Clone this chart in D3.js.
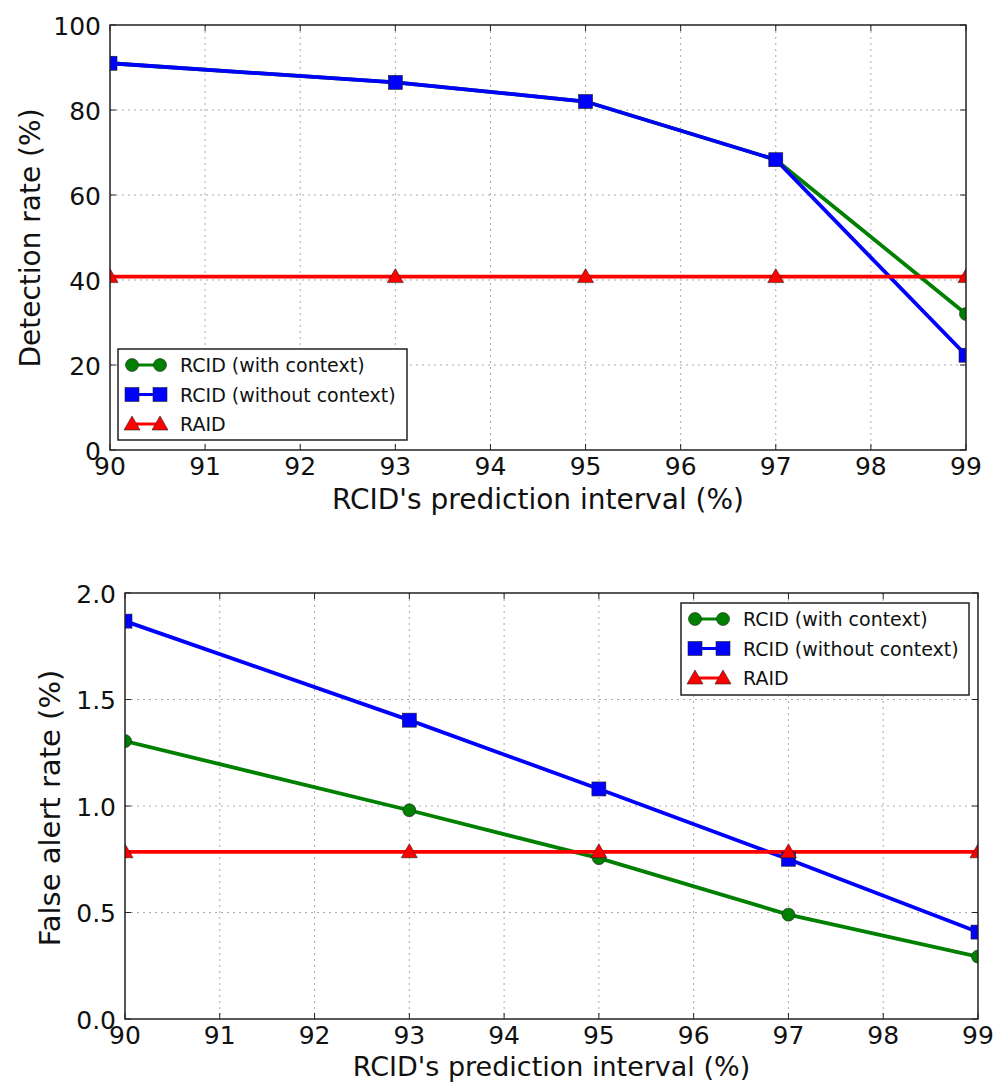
<!DOCTYPE html>
<html>
<head>
<meta charset="utf-8">
<script src="https://cdn.jsdelivr.net/npm/d3@7"></script>
<style>
  body { margin: 0; background: #fff; }
  svg text { font-family: "DejaVu Sans", sans-serif; fill: #111; }
</style>
</head>
<body>
<div id="chart"></div>
<script>
// Data
const intervals = [90, 93, 95, 97, 99];
const xTicks = [90, 91, 92, 93, 94, 95, 96, 97, 98, 99];

const detectWithCtx = [91, 86.5, 82, 68.3, 32];
const detectNoCtx = [91, 86.5, 82, 68.3, 22.3];
const detectRaid = [40.8, 40.8, 40.8, 40.8, 40.8];
const detectTicks = [0, 20, 40, 60, 80, 100];

const falseWithCtx = [1.305, 0.98, 0.755, 0.49, 0.293];
const falseNoCtx = [1.868, 1.403, 1.08, 0.75, 0.408];
const falseRaid = [0.785, 0.785, 0.785, 0.785, 0.785];
const falseTicks = [0, 0.5, 1.0, 1.5, 2.0];

const seriesNames = ["RCID (with context)", "RCID (without context)", "RAID"];
const seriesColors = ["#008000", "#0000ff", "#ff0000"];
const seriesMarkers = ["circle", "square", "triangle"];

const W = 1003, H = 1083;
const svg = d3.select("#chart").append("svg")
    .attr("width", W).attr("height", H);

function drawMarker(g, type, cx, cy, color) {
    if (type === "circle") {
        g.append("circle").attr("cx", cx).attr("cy", cy).attr("r", 6.5)
            .attr("fill", color).attr("stroke", "#222").attr("stroke-width", 0.6);
    } else if (type === "square") {
        g.append("rect").attr("x", cx - 7).attr("y", cy - 7).attr("width", 14).attr("height", 14)
            .attr("fill", color).attr("stroke", "#222").attr("stroke-width", 0.6);
    } else {
        g.append("path").attr("d", `M${cx},${cy - 8} L${cx + 8},${cy + 6} L${cx - 8},${cy + 6} Z`)
            .attr("fill", color).attr("stroke", "#222").attr("stroke-width", 0.6);
    }
}

function drawPanel(opts) {
    const { left, top, right, bottom, yTicks, yFmt, series, yLabel, legend, id } = opts;
    const x = d3.scaleLinear().domain([90, 99]).range([left, right]);
    const y = d3.scaleLinear().domain([yTicks[0], yTicks[yTicks.length - 1]]).range([bottom, top]);
    const g = svg.append("g");

    g.append("clipPath").attr("id", "clip" + id).append("rect")
        .attr("x", left).attr("y", top).attr("width", right - left).attr("height", bottom - top);

    // grid
    g.selectAll(".vg").data(xTicks.slice(1, -1)).enter().append("line")
        .attr("x1", d => x(d)).attr("x2", d => x(d)).attr("y1", top).attr("y2", bottom)
        .attr("stroke", "#aaa").attr("stroke-width", 1).attr("stroke-dasharray", "2,4");
    g.selectAll(".hg").data(yTicks.slice(1, -1)).enter().append("line")
        .attr("x1", left).attr("x2", right).attr("y1", d => y(d)).attr("y2", d => y(d))
        .attr("stroke", "#aaa").attr("stroke-width", 1).attr("stroke-dasharray", "2,4");

    // inside ticks on all sides
    xTicks.forEach(t => {
        g.append("line").attr("x1", x(t)).attr("x2", x(t)).attr("y1", bottom).attr("y2", bottom - 6).attr("stroke", "#222");
        g.append("line").attr("x1", x(t)).attr("x2", x(t)).attr("y1", top).attr("y2", top + 6).attr("stroke", "#222");
    });
    yTicks.forEach(t => {
        g.append("line").attr("x1", left).attr("x2", left + 6).attr("y1", y(t)).attr("y2", y(t)).attr("stroke", "#222");
        g.append("line").attr("x1", right).attr("x2", right - 6).attr("y1", y(t)).attr("y2", y(t)).attr("stroke", "#222");
    });

    // series
    const plot = g.append("g").attr("clip-path", `url(#clip${id})`);
    const line = d3.line().x((d, i) => x(intervals[i])).y(d => y(d));
    series.forEach((vals, si) => {
        plot.append("path").datum(vals).attr("d", line)
            .attr("fill", "none").attr("stroke", seriesColors[si]).attr("stroke-width", 3.8);
    });
    series.forEach((vals, si) => {
        vals.forEach((v, i) => drawMarker(plot, seriesMarkers[si], x(intervals[i]), y(v), seriesColors[si]));
    });

    // frame
    g.append("rect").attr("x", left).attr("y", top).attr("width", right - left).attr("height", bottom - top)
        .attr("fill", "none").attr("stroke", "#222").attr("stroke-width", 1.5);

    // tick labels
    g.selectAll(".xl").data(xTicks).enter().append("text")
        .attr("x", d => x(d)).attr("y", bottom + 25).attr("text-anchor", "middle")
        .attr("font-size", 25).text(d => d);
    g.selectAll(".yl").data(yTicks).enter().append("text")
        .attr("x", left - 9).attr("y", d => y(d) + 9.5).attr("text-anchor", "end")
        .attr("font-size", 25).text(yFmt);

    // axis labels
    g.append("text").attr("x", (left + right) / 2).attr("y", bottom + opts.xLabelDy)
        .attr("text-anchor", "middle").attr("font-size", opts.xLabelSize).text("RCID's prediction interval (%)");
    g.append("text").attr("transform", `translate(${opts.yLabelX},${opts.yLabelY}) rotate(-90)`)
        .attr("text-anchor", "middle").attr("font-size", opts.yLabelSize).text(yLabel);

    // legend
    const lg = g.append("g");
    lg.append("rect").attr("x", legend.x).attr("y", legend.y).attr("width", legend.w).attr("height", legend.h)
        .attr("fill", "#fff").attr("stroke", "#222").attr("stroke-width", 1.5);
    seriesNames.forEach((name, i) => {
        const cy = legend.y + 16 + i * 29.5;
        const x0 = legend.x + 14, x1 = legend.x + 42;
        lg.append("line").attr("x1", x0).attr("x2", x1).attr("y1", cy).attr("y2", cy)
            .attr("stroke", seriesColors[i]).attr("stroke-width", 3);
        drawMarker(lg, seriesMarkers[i], x0, cy, seriesColors[i]);
        drawMarker(lg, seriesMarkers[i], x1, cy, seriesColors[i]);
        lg.append("text").attr("x", legend.x + 62).attr("y", cy + 7)
            .attr("font-size", 19).text(name);
    });
}

drawPanel({
    id: "a", left: 110, top: 25, right: 966, bottom: 450, xLabelDy: 59, xLabelSize: 28,
    yTicks: detectTicks, yFmt: d => d,
    series: [detectWithCtx, detectNoCtx, detectRaid],
    yLabel: "Detection rate (%)", yLabelX: 40, yLabelY: 238, yLabelSize: 28,
    legend: { x: 118, y: 349, w: 289, h: 91 }
});

drawPanel({
    id: "b", left: 125, top: 593, right: 978, bottom: 1019, xLabelDy: 57, xLabelSize: 27,
    yTicks: falseTicks, yFmt: d => d.toFixed(1),
    series: [falseWithCtx, falseNoCtx, falseRaid],
    yLabel: "False alert rate (%)", yLabelX: 60, yLabelY: 808, yLabelSize: 29,
    legend: { x: 681, y: 603, w: 288, h: 92 }
});
</script>
</body>
</html>
